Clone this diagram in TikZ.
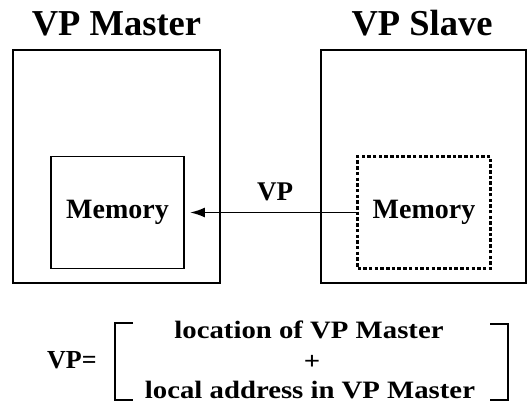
\documentclass[tikz,border=0pt]{standalone}
\usepackage{fontspec}
\setmainfont{Liberation Serif}
\newfontfamily\widefont[FakeStretch=1.15]{Liberation Serif}
\usetikzlibrary{arrows.meta}
\tikzset{
  outerbox/.style={draw, line width=1.7pt, inner sep=0pt},
  membox/.style={draw, line width=1.9pt, inner sep=0pt, minimum width=133pt, minimum height=112pt, font=\fontsize{28}{32}\selectfont\bfseries},
  dashbox/.style={membox, line width=2.1pt, dash pattern=on 3.5pt off 2.2pt},
  title/.style={anchor=base, inner sep=0pt, font=\fontsize{36.5}{40}\selectfont\bfseries},
  label/.style={anchor=base, inner sep=0pt, font=\fontsize{27}{30}\selectfont\bfseries},
  formula/.style={anchor=base, inner sep=0pt, font=\widefont\fontsize{25}{30}\selectfont\bfseries},
  bracket/.style={line width=2.8pt},
  vparrow/.style={line width=1.9pt, -{Latex[length=15pt,width=10pt]}, shorten >=5pt}
}
\begin{document}
\begin{tikzpicture}[x=1pt,y=-1pt]
\useasboundingbox (0,0) rectangle (529,404);
% outer boxes
\node[outerbox, minimum width=207pt, minimum height=233pt] (master) at (116.5,166.5) {};
\node[outerbox, minimum width=205pt, minimum height=233pt] (slave) at (423.5,166.5) {};
% titles
\node[title] (mtitle) at (116.5,35) {VP Master};
\node[title] (stitle) at (422,35) {VP Slave};
% memory boxes
\node[membox] (mmem) at (117.5,212.5) {Memory};
\node[dashbox] (smem) at (424,212.5) {Memory};
% arrow
\draw[vparrow] (smem.west) -- (mmem.east);
\node[label] (vplabel) at (275,200) {VP};
% formula
\node[anchor=base west, inner sep=0pt, font=\fontsize{26}{30}\selectfont\bfseries] (vpeq) at (47,368) {VP=};
\node[formula] (line1) at (309,338) {location of VP Master};
\node[formula] (plus) at (312,369) {+};
\node[formula] (line3) at (310,398) {local address in VP Master};
\draw[bracket] (133,323) -- (115,323) -- (115,400) -- (133,400);
\draw[bracket] (490,324) -- (508,324) -- (508,400) -- (490,400);
\end{tikzpicture}
\end{document}
